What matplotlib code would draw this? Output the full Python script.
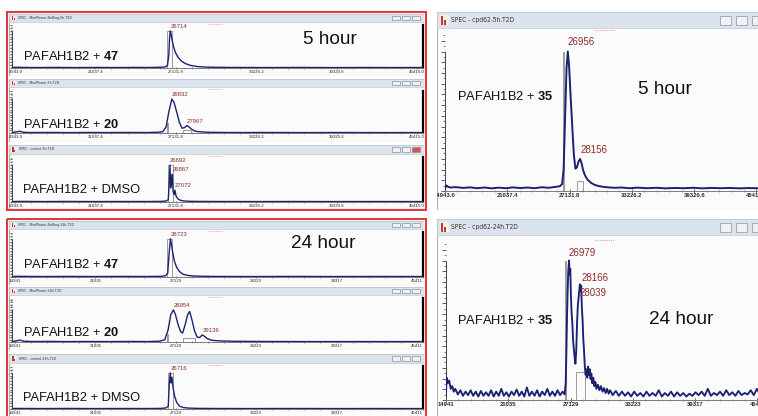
import numpy as np
import matplotlib
matplotlib.use("Agg")
import matplotlib.pyplot as plt
from matplotlib.patches import Rectangle
from matplotlib.ticker import MultipleLocator, FixedLocator

plt.rcParams['font.family'] = ['Liberation Sans', 'DejaVu Sans']
plt.rcParams['mathtext.fontset'] = 'custom'
plt.rcParams['mathtext.rm'] = 'Liberation Sans'
plt.rcParams['mathtext.bf'] = 'Liberation Sans:bold'

W, H = 758, 416
NAVY = '#1c2270'
PEAKC = '#8e2c2c'
GREY = '#8c8c8c'

# spectra: mass (Da) / intensity (% of top peak)
m_47_5h = [14716, 15000, 16500, 18000, 19500, 21000, 22500, 24000, 25200, 26000, 26350, 26500,
           26600, 26660, 26714, 26780, 26860, 26960, 27100, 27300, 27550, 27850, 28250, 28750,
           29400, 30300, 32000, 34000, 36500, 39000, 41500, 44000, 45870]
i_47_5h = [1.5, 1.8, 1.2, 1.6, 1.1, 1.5, 1.2, 1.6, 1.4, 2.0, 3.0, 7, 35, 82, 100, 90, 74, 58,
           42, 29, 19, 12, 7, 4, 2.5, 1.8, 1.4, 1.2, 1.5, 1.1, 1.4, 1.2, 1.3]

m_20_5h = [14716, 15000, 15300, 15600, 16200, 17500, 19000, 20500, 22000, 23500, 25000, 25800,
           26150, 26400, 26600, 26832, 27000, 27200, 27400, 27600, 27800, 27967, 28100, 28300,
           28550, 28850, 29250, 29800, 30600, 32000, 34000, 37000, 40000, 43000, 45870]
i_20_5h = [1.5, 3, 5, 2, 1.3, 1.6, 1.2, 1.5, 1.3, 1.6, 1.4, 2.2, 4, 18, 62, 100, 90, 62, 32,
           14, 16, 22, 19, 12, 6, 4, 2.8, 2.0, 1.6, 1.3, 1.5, 1.2, 1.4, 1.2, 1.3]

m_dmso_5h = [14716, 15200, 17000, 19000, 21000, 23000, 25000, 26000, 26400, 26560, 26620, 26692,
             26740, 26800, 26867, 26930, 27000, 27072, 27150, 27280, 27450, 27700, 28100, 28700,
             30000, 33000, 36000, 39000, 42000, 45870]
i_dmso_5h = [1.3, 1.6, 1.2, 1.5, 1.2, 1.4, 1.3, 1.6, 2.5, 6, 45, 100, 38, 52, 75, 28, 20, 32,
             16, 9, 5, 3, 2, 1.6, 1.4, 1.2, 1.4, 1.2, 1.3, 1.2]

m_47_24h = [14716, 15200, 17000, 19000, 21000, 23000, 25000, 26000, 26350, 26520, 26620, 26723,
            26800, 26900, 27020, 27200, 27420, 27700, 28050, 28500, 29200, 30500, 33000, 36000,
            39000, 42000, 45870]
i_47_24h = [1.4, 1.7, 1.2, 1.5, 1.2, 1.5, 1.3, 1.8, 3, 10, 60, 100, 86, 64, 42, 25, 14, 7, 4,
            2.5, 1.8, 1.4, 1.2, 1.5, 1.2, 1.4, 1.3]

m_20_24h = [14716, 15000, 15300, 15600, 16200, 17500, 19000, 20500, 22000, 23500, 25000, 25900,
            26300, 26550, 26750, 26954, 27100, 27300, 27500, 27650, 27850, 28030, 28180, 28350,
            28550, 28750, 28950, 29136, 29300, 29500, 29800, 30200, 30800, 31600, 33000, 35000,
            38000, 41000, 45870]
i_20_24h = [1.5, 3, 6, 2.5, 1.5, 1.8, 1.3, 1.6, 1.3, 1.7, 1.4, 2.5, 7, 38, 85, 100, 86, 55, 32,
            28, 55, 85, 95, 70, 35, 15, 14, 22, 18, 11, 6, 4, 3, 2.2, 1.8, 1.5, 1.3, 1.4, 1.3]

m_dmso_24h = [14716, 15200, 17000, 19000, 21000, 23000, 25000, 26000, 26400, 26560, 26640, 26716,
              26770, 26840, 26920, 27040, 27200, 27420, 27700, 28100, 28700, 30000, 33000, 36000,
              39000, 42000, 45870]
i_dmso_24h = [1.3, 1.6, 1.2, 1.5, 1.2, 1.4, 1.3, 1.7, 3, 8, 70, 100, 72, 88, 60, 36, 18, 8, 4,
              2.5, 1.8, 1.4, 1.2, 1.4, 1.2, 1.3, 1.2]

m_35_5h = [14943, 15050, 15250, 15500, 16000, 16700, 17400, 18100, 18800, 19500, 20200, 20900,
           21600, 22300, 23000, 23700, 24400, 25100, 25800, 26200, 26400, 26550, 26700, 26830,
           26956, 27080, 27230, 27400, 27550, 27700, 27850, 28000, 28156, 28300, 28450, 28650,
           28900, 29200, 29550, 29950, 30400, 30900, 31500, 32200, 33000, 33800, 34700, 35600,
           36500, 37400, 38300, 39200, 40100, 41000, 41900, 42800, 43700, 44600, 45500, 46400,
           47225]
i_35_5h = [1.5, 4, 3, 2.5, 2.8, 2.2, 2.6, 2.0, 2.5, 1.9, 2.4, 2.0, 2.6, 2.1, 2.5, 2.0, 2.7, 2.3,
           3.0, 3.5, 5, 16, 55, 88, 100, 90, 68, 45, 26, 16, 17, 21, 23, 20, 15, 11, 8, 6, 4.5,
           3.6, 3.0, 2.6, 2.3, 2.5, 2.0, 2.4, 2.0, 2.3, 1.9, 2.2, 2.0, 2.3, 1.9, 2.2, 2.0, 2.2,
           1.9, 2.1, 2.0, 2.2, 2.0]

m_35_24h = [14941, 15000, 15100, 15250, 15400, 15550, 15700, 15850, 16100, 16350, 16600, 16850,
            17100, 17350, 17600, 17850, 18100, 18350, 18600, 18850, 19100, 19350, 19600, 19850,
            20100, 20350, 20600, 20850, 21100, 21350, 21600, 21850, 22100, 22350, 22600, 22850,
            23100, 23350, 23600, 23850, 24100, 24350, 24600, 24850, 25100, 25350, 25600, 25850,
            26100, 26350, 26550, 26650, 26720, 26780, 26840, 26900, 26979, 27040, 27100, 27160,
            27230, 27300, 27380, 27450, 27530, 27600, 27680, 27760, 27840, 27920, 28000, 28039,
            28100, 28166, 28230, 28300, 28370, 28440, 28520, 28600, 28680, 28760, 28840, 28920,
            29000, 29080, 29160, 29250, 29350, 29450, 29550, 29650, 29800, 29950, 30100, 30250,
            30400, 30550, 30700, 30850, 31000, 31250, 31550, 31850, 32150, 32450, 32750, 33050,
            33350, 33650, 33950, 34250, 34550, 34850, 35150, 35450, 35750, 36050, 36350, 36650,
            36950, 37250, 37550, 37850, 38150, 38450, 38750, 39050, 39350, 39650, 39950, 40250,
            40550, 40850, 41150, 41450, 41750, 42050, 42350, 42650, 42950, 43250, 43550, 43850,
            44150, 44450, 44750, 45050, 45350, 45650, 45950, 46250, 46550, 46850]
i_35_24h = [4, 16, 12, 14, 8, 10, 6, 8, 4, 7, 3, 6, 3.5, 7, 3, 6, 2.5, 6.5, 3, 5.5, 3, 7, 2.5,
            6, 3, 8, 3, 5.5, 2.5, 6, 3.5, 7.5, 3, 6, 2.5, 9, 3, 6, 3, 7, 2.5, 6, 3.5, 8, 3, 6,
            3, 7, 3.5, 6, 4, 12, 35, 60, 78, 92, 100, 90, 94, 75, 62, 55, 42, 36, 30, 26, 35, 55,
            68, 74, 80, 83, 78, 82, 66, 58, 44, 36, 24, 18, 22, 16, 24, 18, 22, 15, 19, 12, 16,
            10, 13, 8, 11, 7, 10, 6, 8.5, 5, 8, 4.5, 7, 3.5, 6.5, 3, 6, 3, 5.5, 2.5, 6, 3, 5,
            2.5, 6, 3, 5, 3, 7, 2.5, 5, 3, 6, 2.5, 5.5, 3, 5, 2.5, 4.5, 3, 5.5, 3.5, 6, 3, 8, 3,
            5, 3.5, 6, 3, 7, 3.5, 5.5, 3, 6.5, 3.5, 5, 4, 7, 3.5, 8, 4, 6, 3.5, 5, 4]

# integration boxes (start, end, height) and labelled peaks
box_47_5h = [(26480, 26850, 100)]
box_20_5h = [(26450, 26520, 30), (27700, 28250, 8)]
box_dmso_5h = [(26560, 26950, 100)]
box_47_24h = [(26500, 26880, 100)]
box_20_24h = [(26500, 26560, 25), (27650, 28600, 12)]
box_dmso_24h = [(26560, 26900, 100)]
box_35_5h = [(26500, 26540, 100), (27850, 28400, 7)]
box_35_24h = [(26620, 26660, 100), (27650, 28500, 20)]

peaks_47_5h = [26714]
peaks_20_5h = [26832, 27967]
peaks_dmso_5h = [26692, 26867, 27072]
peaks_47_24h = [26723]
peaks_20_24h = [26954, 29136]
peaks_dmso_24h = [26716]
peaks_35_5h = [26956, 28156]
peaks_35_24h = [26979, 28166, 28039]

ticks_5h = [14943.0, 21037.4, 27131.8, 33226.2, 39320.6, 45415.0]
ticks_24h = [14941, 21035, 27129, 33223, 39317, 45411]
labels_5h = ['14943.0', '21037.4', '27131.8', '33226.2', '39320.6', '45415.0']
labels_24h = ['14941', '21035', '27129', '33223', '39317', '45411']


def fr(x0, y0, x1, y1):
    return [x0 / W, 1 - y1 / H, (x1 - x0) / W, (y1 - y0) / H]


def window(fig, frame, bar_h, title, title_fs, buttons, btn_w, close_red=False):
    x0, y0, x1, y1 = frame
    fa = fig.add_axes(fr(*frame))
    fa.set_xlim(x0, x1)
    fa.set_ylim(y1, y0)
    fa.axis('off')
    fa.add_patch(Rectangle((x0, y0), x1 - x0, y1 - y0, fc='#fbfbfc', ec='#a9b1ba', lw=0.8))
    fa.add_patch(Rectangle((x0, y0), x1 - x0, bar_h, fc='#dbe3ec', ec='#c3ccd6', lw=0.5))
    # little spectrum icon
    s = bar_h * 0.6
    ix, iy = x0 + 2.5, y0 + bar_h * 0.2
    fa.add_patch(Rectangle((ix, iy), s, s, fc='#f4efe8', ec='none'))
    fa.add_patch(Rectangle((ix + s * 0.15, iy + s * 0.1), s * 0.25, s * 0.9, fc='#c0392b', ec='none'))
    fa.add_patch(Rectangle((ix + s * 0.5, iy + s * 0.55), s * 0.2, s * 0.45, fc='#c0392b', ec='none'))
    fa.text(ix + s + 2, y0 + bar_h / 2, title, fontsize=title_fs, color='#333',
            va='center', ha='left', family=['DejaVu Sans'], stretch='condensed')
    for k, bx in enumerate(buttons):
        red = close_red and k == len(buttons) - 1
        fa.add_patch(Rectangle((bx, y0 + bar_h * 0.22), btn_w, bar_h * 0.58,
                               fc='#d9534f' if red else '#eef2f6', ec='#8a949e', lw=0.5))
    return fa


def spectrum(fig, fa, box, xlim, ylim, m, inten, boxes, peaks, peak_dy, peak_fs,
             ticks, tlabels, tfs, lw, big, black_right):
    ax = fig.add_axes(fr(*box))
    ax.set_xlim(*xlim)
    ax.set_ylim(*ylim)
    ax.patch.set_alpha(0)
    for a, b, h in boxes:
        ax.plot([a, a, b, b], [0, h, h, 0], color=GREY, lw=0.6, zorder=2)
    ax.plot(m, inten, color=NAVY, lw=lw, zorder=3)
    for pk, dy in zip(peaks, peak_dy):
        ax.annotate(str(pk), (pk, np.interp(pk, m, inten)), xytext=(0, dy),
                    textcoords='offset points', ha='left', va='center',
                    fontsize=peak_fs, color=PEAKC, zorder=4)
    ax.spines['top'].set_visible(False)
    ax.spines['bottom'].set_color('#7a7a7a')
    ax.spines['bottom'].set_linewidth(0.7)
    ax.spines['left'].set_color('#444')
    ax.spines['left'].set_linewidth(0.7)
    ax.spines['left'].set_bounds(0, 100)
    if black_right:
        ax.spines['right'].set_color('black')
        ax.spines['right'].set_linewidth(1.6)
    else:
        ax.spines['right'].set_visible(False)
    ax.yaxis.set_major_locator(MultipleLocator(100 / 13))
    ax.yaxis.set_minor_locator(MultipleLocator(100 / 26))
    ax.set_ylim(*ylim)
    ax.tick_params(axis='y', which='major', direction='out', length=3 if big else 1.8,
                   width=0.6, colors='#444', labelleft=False)
    ax.tick_params(axis='y', which='minor', direction='out', length=1.5 if big else 1,
                   width=0.5, colors='#444')
    ax.xaxis.set_major_locator(FixedLocator(ticks))
    step = (ticks[1] - ticks[0]) / 5
    ax.xaxis.set_minor_locator(FixedLocator([ticks[0] + k * step for k in range(-2, 30)]))
    ax.set_xlim(*xlim)
    ax.tick_params(axis='x', which='major', direction='inout', length=3 if big else 2,
                   width=0.6, colors='#555', labelbottom=False)
    ax.tick_params(axis='x', which='minor', direction='inout', length=1.5 if big else 1,
                   width=0.5, colors='#666')
    for t, s in zip(ticks, tlabels):
        fa.annotate(s, (t, 0), xycoords=ax.get_xaxis_transform(), xytext=(0, -1.2),
                    textcoords='offset points', ha='center', va='top', fontsize=tfs,
                    color='#2a2a2a', weight='bold' if big else 'normal', clip_on=True)
    return ax


fig = plt.figure(figsize=(W / 100, H / 100), dpi=100)
fig.patch.set_facecolor('white')

left_btns = [392, 402, 412]
left_x = (9, 424)
left_plot_x = (12, 423)
left_xlim = (14716, 45870)

left_panels = [
    # frame y0, y1, bar, plot y0, y1, ylim top, m, i, boxes, peaks, title, label, label y, red close, ticks
    (14, 76, 8, 25, 68, 116, m_47_5h, i_47_5h, box_47_5h, peaks_47_5h,
     'SPEC - MiniPharm-NoRing-5h.T2D', r'PAFAH1B2 + $\mathbf{47}$', 57, False, ticks_5h, labels_5h),
    (79, 142, 8, 91, 133, 124, m_20_5h, i_20_5h, box_20_5h, peaks_20_5h,
     'SPEC - MiniPharm-5h.T2D', r'PAFAH1B2 + $\mathbf{20}$', 125, False, ticks_5h, labels_5h),
    (145, 209, 9, 157, 202, 122, m_dmso_5h, i_dmso_5h, box_dmso_5h, peaks_dmso_5h,
     'SPEC - control-5h.T2D', 'PAFAH1B2 + DMSO', 190, True, ticks_5h, labels_5h),
    (221, 285, 8, 232, 277, 118, m_47_24h, i_47_24h, box_47_24h, peaks_47_24h,
     'SPEC - MiniPharm-NoRing-24h.T2D', r'PAFAH1B2 + $\mathbf{47}$', 265, False, ticks_24h, labels_24h),
    (287, 350, 8, 298, 342, 137, m_20_24h, i_20_24h, box_20_24h, peaks_20_24h,
     'SPEC - MiniPharm-24h.T2D', r'PAFAH1B2 + $\mathbf{20}$', 333, False, ticks_24h, labels_24h),
    (354, 418, 9, 366, 409, 119, m_dmso_24h, i_dmso_24h, box_dmso_24h, peaks_dmso_24h,
     'SPEC - control-24h.T2D', 'PAFAH1B2 + DMSO', 398, False, ticks_24h, labels_24h),
]

for (fy0, fy1, bar, py0, py1, ytop, m, inten, boxes, peaks, title, label, ly,
     close, ticks, tlabels) in left_panels:
    fa = window(fig, (left_x[0], fy0, left_x[1], fy1), bar, title, 2.6, left_btns, 8, close)
    fa.plot([208, 222], [fy0 + bar + 1.5] * 2, color='#f2a0a0', lw=0.7, ls=(0, (1, 1)))
    spectrum(fig, fa, (left_plot_x[0], py0, left_plot_x[1], py1), left_xlim, (0, ytop),
             m, inten, boxes, peaks, [3.2] * len(peaks), 4.3, ticks, tlabels, 3.2, 1.0,
             False, True)
    fa.text(23, ly, label, fontsize=9.3, color='#111', ha='left', va='center')
    if fy0 == 14:
        fa.text(330, 40, '5 hour', fontsize=13.7, color='#111', ha='center', va='center')
    if fy0 == 221:
        fa.text(323, 244, '24 hour', fontsize=13.7, color='#111', ha='center', va='center')

# right column
right_btns = [720, 736, 752]
fa = window(fig, (437, 12, 790, 210), 16, 'SPEC - cpd62-5h.T2D', 4.8, right_btns, 11)
fa.plot([595, 615], [30, 30], color='#f2a0a0', lw=0.8, ls=(0, (1, 1)))
spectrum(fig, fa, (445, 32, 775, 191), (14943, 47225), (0, 114), m_35_5h, i_35_5h,
         box_35_5h, peaks_35_5h, [6.5, 6.5], 7, ticks_5h, labels_5h, 4.2, 1.4, True, False)
fa.text(457, 97, r'PAFAH1B2 + $\mathbf{35}$', fontsize=9.3, color='#111', ha='left', va='center')
fa.text(665, 90, '5 hour', fontsize=13.7, color='#111', ha='center', va='center')

fa = window(fig, (437, 219, 790, 418), 16, 'SPEC - cpd62-24h.T2D', 4.8, right_btns, 11)
fa.plot([595, 615], [240, 240], color='#f2a0a0', lw=0.8, ls=(0, (1, 1)))
spectrum(fig, fa, (446, 241, 775, 400), (14941, 47125), (0, 114), m_35_24h, i_35_24h,
         box_35_24h, peaks_35_24h, [5.5, 5.5, -6.5], 7, ticks_24h, labels_24h, 4.2, 1.35,
         True, False)
fa.text(457, 320, r'PAFAH1B2 + $\mathbf{35}$', fontsize=9.3, color='#111', ha='left', va='center')
fa.text(681, 320, '24 hour', fontsize=13.7, color='#111', ha='center', va='center')

# red outlines around the left column
ov = fig.add_axes([0, 0, 1, 1], zorder=10)
ov.set_xlim(0, W)
ov.set_ylim(H, 0)
ov.axis('off')
ov.patch.set_alpha(0)
ov.add_patch(Rectangle((7, 12), 419, 198, fill=False, ec='#e03a3a', lw=1.5))
ov.add_patch(Rectangle((7, 219), 419, 200, fill=False, ec='#e03a3a', lw=1.5, clip_on=False))

fig.savefig('out.png', dpi=100)
